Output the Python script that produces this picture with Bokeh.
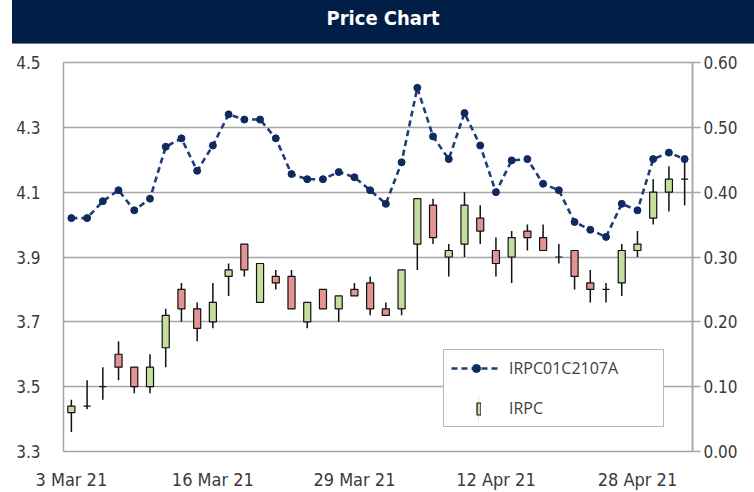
from bokeh.plotting import figure
from bokeh.models import (Range1d, LinearAxis, FixedTicker, NumeralTickFormatter,
                          Legend, LegendItem, Div)
from bokeh.layouts import column
from bokeh.embed import file_html
from bokeh.resources import INLINE

# ---------------- data ----------------
dates = ["3 Mar 21", "4 Mar 21", "5 Mar 21", "8 Mar 21", "9 Mar 21", "10 Mar 21",
         "11 Mar 21", "12 Mar 21", "15 Mar 21", "16 Mar 21", "17 Mar 21", "18 Mar 21",
         "19 Mar 21", "22 Mar 21", "23 Mar 21", "24 Mar 21", "25 Mar 21", "26 Mar 21",
         "29 Mar 21", "30 Mar 21", "31 Mar 21", "1 Apr 21", "2 Apr 21", "5 Apr 21",
         "7 Apr 21", "8 Apr 21", "9 Apr 21", "12 Apr 21", "16 Apr 21", "19 Apr 21",
         "20 Apr 21", "21 Apr 21", "22 Apr 21", "23 Apr 21", "26 Apr 21", "27 Apr 21",
         "28 Apr 21", "29 Apr 21", "30 Apr 21", "4 May 21"]

opens = [3.42, 3.44, 3.50, 3.60, 3.56, 3.50, 3.62, 3.80, 3.74, 3.70,
         3.84, 3.94, 3.76, 3.84, 3.84, 3.70, 3.80, 3.74, 3.80, 3.82,
         3.74, 3.74, 3.94, 4.06, 3.90, 3.94, 4.02, 3.92, 3.90, 3.98,
         3.96, 3.90, 3.92, 3.82, 3.80, 3.82, 3.92, 4.02, 4.10, 4.14]
highs = [3.46, 3.52, 3.56, 3.64, 3.56, 3.60, 3.74, 3.82, 3.76, 3.82,
         3.88, 3.94, 3.88, 3.86, 3.86, 3.76, 3.80, 3.78, 3.82, 3.84,
         3.76, 3.86, 4.08, 4.08, 3.94, 4.10, 4.06, 3.96, 3.98, 4.00,
         4.00, 3.94, 3.92, 3.86, 3.82, 3.94, 3.98, 4.14, 4.18, 4.20]
lows = [3.36, 3.43, 3.46, 3.52, 3.48, 3.48, 3.56, 3.70, 3.64, 3.68,
        3.78, 3.84, 3.76, 3.80, 3.74, 3.68, 3.74, 3.70, 3.78, 3.72,
        3.72, 3.72, 3.86, 3.94, 3.84, 3.90, 3.94, 3.84, 3.82, 3.92,
        3.92, 3.88, 3.80, 3.76, 3.76, 3.78, 3.90, 4.00, 4.04, 4.06]
closes = [3.44, 3.44, 3.50, 3.56, 3.50, 3.56, 3.72, 3.74, 3.68, 3.76,
          3.86, 3.86, 3.88, 3.82, 3.74, 3.76, 3.74, 3.78, 3.78, 3.74,
          3.72, 3.86, 4.08, 3.96, 3.92, 4.06, 3.98, 3.88, 3.96, 3.96,
          3.92, 3.90, 3.84, 3.80, 3.80, 3.92, 3.94, 4.10, 4.14, 4.14]

warrant = [0.360, 0.360, 0.386, 0.403, 0.372, 0.390, 0.470, 0.483, 0.433, 0.472,
           0.520, 0.512, 0.512, 0.483, 0.428, 0.420, 0.420, 0.431, 0.423, 0.403,
           0.382, 0.446, 0.561, 0.486, 0.451, 0.522, 0.472, 0.400, 0.449, 0.451,
           0.413, 0.403, 0.354, 0.342, 0.331, 0.382, 0.372, 0.451, 0.461, 0.451]

date_tick_idx = [0, 9, 18, 27, 36]
left_ticks = [3.3, 3.5, 3.7, 3.9, 4.1, 4.3, 4.5]
right_ticks = [0.0, 0.1, 0.2, 0.3, 0.4, 0.5, 0.6]

series_names = ["IRPC01C2107A", "IRPC"]
chart_title = "Price Chart"

# ---------------- styling ----------------
GREEN = "#c6dda0"
RED = "#e39392"
NAVY_LINE = "#1f3c78"
NAVY_DOT = "#0e2a5e"
GRID = "#a6a6a6"
TXT = "#3a3a3a"
AXFONT = "DejaVu Sans Condensed"

x = list(range(len(dates)))
body_top = [max(o, c) for o, c in zip(opens, closes)]
body_bot = [min(o, c) for o, c in zip(opens, closes)]
body_col = [GREEN if c > o else (RED if c < o else "#000000") for o, c in zip(opens, closes)]

p = figure(width=754, height=448,
           x_range=Range1d(-0.5, len(dates) - 0.5),
           y_range=Range1d(left_ticks[0], left_ticks[-1]),
           output_backend="svg", toolbar_location=None,
           min_border_left=63, min_border_right=62,
           min_border_top=18, min_border_bottom=40)
p.extra_y_ranges = {"right": Range1d(right_ticks[0], right_ticks[-1])}

p.outline_line_color = GRID
p.outline_line_width = 1.5
p.background_fill_color = "white"
p.border_fill_color = "white"

# axes
p.xaxis.ticker = FixedTicker(ticks=date_tick_idx)
p.xaxis.major_label_overrides = {i: dates[i] for i in date_tick_idx}
p.xaxis.major_tick_out = 0
p.xaxis.major_tick_in = 0
p.xaxis.minor_tick_out = 0
p.xaxis.minor_tick_in = 0
p.xaxis.axis_line_color = None
p.xaxis.major_label_standoff = 17
p.xaxis.major_label_text_font = AXFONT
p.xaxis.major_label_text_font_size = "18px"
p.xaxis.major_label_text_color = TXT

p.yaxis.ticker = FixedTicker(ticks=left_ticks)
p.yaxis.formatter = NumeralTickFormatter(format="0.0")
p.yaxis.major_tick_out = 0
p.yaxis.major_tick_in = 0
p.yaxis.minor_tick_out = 0
p.yaxis.minor_tick_in = 0
p.yaxis.axis_line_color = None
p.yaxis.major_label_standoff = 23
p.yaxis.major_label_text_font = AXFONT
p.yaxis.major_label_text_font_size = "17px"
p.yaxis.major_label_text_color = TXT

raxis = LinearAxis(y_range_name="right",
                   ticker=FixedTicker(ticks=right_ticks),
                   formatter=NumeralTickFormatter(format="0.00"))
raxis.major_tick_out = 8
raxis.major_tick_in = 0
raxis.minor_tick_out = 0
raxis.minor_tick_in = 0
raxis.major_tick_line_color = GRID
raxis.major_tick_line_width = 1.5
raxis.axis_line_color = GRID
raxis.axis_line_width = 1.5
raxis.major_label_standoff = 3
raxis.major_label_text_font = AXFONT
raxis.major_label_text_font_size = "17px"
raxis.major_label_text_color = TXT
p.add_layout(raxis, "right")

p.xgrid.visible = False
p.ygrid.ticker = FixedTicker(ticks=left_ticks)
p.ygrid.grid_line_color = GRID
p.ygrid.grid_line_width = 1.5

# candles
wick_r = p.segment(x0=x, y0=lows, x1=x, y1=highs, line_color="#111111", line_width=1.5)
body_r = p.vbar(x=x, top=body_top, bottom=body_bot, width=0.45,
                fill_color=body_col, line_color="#111111", line_width=1.2)

# warrant line
line_r = p.line(x, warrant, y_range_name="right", line_color=NAVY_LINE,
                line_width=2.6, line_dash="6 4")
dot_r = p.scatter(x, warrant, y_range_name="right", size=7,
                  fill_color=NAVY_DOT, line_color=NAVY_DOT)

# legend helpers (invisible in plot)
ghost_r = p.scatter(x, closes, alpha=0)
wick_icon_r = p.vbar(x=x, top=highs, bottom=lows, width=0.05, fill_color="#b5b5b5",
                     line_color=None, muted_alpha=0)
wick_icon_r.muted = True

legA = Legend(items=[LegendItem(label=series_names[0], renderers=[line_r, dot_r]),
                     LegendItem(label=series_names[1], renderers=[ghost_r])],
              location=(380, 24), orientation="vertical", padding=7, spacing=18, margin=0,
              glyph_width=50, glyph_height=20, label_height=20, label_width=147,
              label_standoff=8, border_line_color="#6f6f6f", border_line_width=1.3,
              background_fill_color="white", background_fill_alpha=1.0,
              label_text_font="Open Sans", label_text_font_size="16px",
              label_text_color="#404040")
p.add_layout(legA)

legC = Legend(items=[LegendItem(label=" ", renderers=[wick_icon_r])],
              location=(415, 27), padding=0, spacing=0, margin=0,
              glyph_width=1, glyph_height=31, label_height=31, label_width=0,
              label_standoff=0, label_text_font_size="1px",
              border_line_color=None, background_fill_alpha=0)
p.add_layout(legC)

legB = Legend(items=[LegendItem(label=" ", renderers=[body_r], index=0)],
              location=(413, 35), padding=0, spacing=0, margin=0,
              glyph_width=5, glyph_height=15, label_height=15, label_width=0,
              label_standoff=0, label_text_font_size="1px",
              border_line_color=None, background_fill_alpha=0)
p.add_layout(legB)

title = Div(text=chart_title, width=742, height=44, margin=(0, 0, 0, 12),
            styles={"background-color": "#011e46", "color": "white",
                    "font-family": AXFONT, "font-weight": "bold",
                    "font-size": "20px", "text-align": "center",
                    "line-height": "36px", "box-shadow": "inset 0 -1px 0 #6f819f"})

layout = column(title, p, spacing=0)

open("out.html", "w").write(file_html(layout, INLINE))
